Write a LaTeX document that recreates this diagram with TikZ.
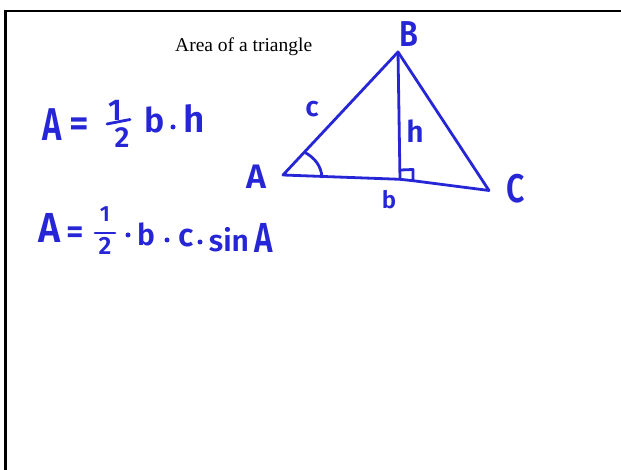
\documentclass[tikz,border=0pt]{standalone}
\usepackage{fontspec}
\setmainfont{Liberation Serif}
\newfontfamily\hwfont{Fira Sans}[BoldFont={Fira Sans SemiBold}]
\definecolor{hwblue}{RGB}{38,38,215}
\tikzset{
  hw/.style={text=hwblue, inner sep=0pt, font={\hwfont\bfseries\fontsize{#1pt}{#1pt}\selectfont}},
  pen/.style={draw=hwblue, line width=2.8pt, line cap=round, line join=round},
  dotn/.style={circle, fill=hwblue, inner sep=0pt, minimum size=5pt},
  frame/.style={draw=black, line width=2.3pt},
}
\begin{document}
\begin{tikzpicture}[x=1pt,y=-1pt]
\useasboundingbox (0,0) rectangle (621,470);
% frame
\coordinate (fbl) at (5.5,471);
\coordinate (ftl) at (5.5,11.2);
\coordinate (ftr) at (622,11.2);
\draw[frame] (fbl) -- (ftl) -- (ftr);
% title
\node[font={\fontsize{19.5pt}{22pt}\selectfont}, inner sep=0pt, anchor=base west] (title) at (175,51.7) {Area of a triangle};
% triangle
\coordinate (A) at (283,175);
\coordinate (B) at (398,52);
\coordinate (C) at (489,190.5);
\coordinate (F) at (400,179.3);
\coordinate (K) at (413,180.7);
\draw[pen] (A) -- (B) -- (C) -- (K) -- (F) -- cycle;
\draw[pen] (B) -- (F);
% right angle mark
\coordinate (r1) at (400.5,170);
\coordinate (r2) at (413,169.5);
\draw[pen] (r1) -- (r2) -- (K);
% angle arc at A
\coordinate (a1) at (305,152.5);
\coordinate (a2) at (322,177);
\draw[pen] (a1) .. controls (315,158) and (321,166) .. (a2);
% triangle labels
\node[hw=36] (lB) at (409,34) {\scalebox{0.85}[1]{B}};
\node[hw=28] (lc) at (312,109) {c};
\node[hw=30] (lh) at (415,131) {h};
\node[hw=34] (lA) at (256,177) {A};
\node[hw=24] (lb) at (389,200) {b};
\node[hw=40] (lC) at (516,189) {\scalebox{0.8}[1]{C}};
% formula 1
\node[hw=46] (f1A) at (52,125) {\scalebox{0.72}[1]{A}};
\node[hw=38] (f1eq) at (79,127) {=};
\node[hw=30] (f1n) at (115,110) {1};
\coordinate (f1b1) at (107,124);
\coordinate (f1b2) at (130,119.5);
\draw[pen] (f1b1) -- (f1b2);
\node[hw=29] (f1d) at (122,138) {2};
\node[hw=34] (f1b) at (155,120) {b};
\node[dotn] (f1dot) at (173,127) {};
\node[hw=37] (f1h) at (194,119) {h};
% formula 2
\node[hw=42] (f2A) at (50,228) {\scalebox{0.9}[1]{A}};
\node[hw=34] (f2eq) at (75,235) {=};
\node[hw=22] (f2n) at (105,214) {1};
\coordinate (f2b1) at (95,233);
\coordinate (f2b2) at (115,233);
\draw[pen] (f2b1) -- (f2b2);
\node[hw=25] (f2d) at (105,246) {2};
\node[dotn] (f2dot1) at (128,235) {};
\node[hw=30] (f2b) at (146,234) {b};
\node[dotn] (f2dot2) at (167,240) {};
\node[hw=32] (f2c) at (186,238) {c};
\node[dotn] (f2dot3) at (200,242) {};
\node[hw=30] (f2sin) at (229,240) {sin};
\node[hw=42] (f2A2) at (264,238) {\scalebox{0.75}[1]{A}};
\end{tikzpicture}
\end{document}
